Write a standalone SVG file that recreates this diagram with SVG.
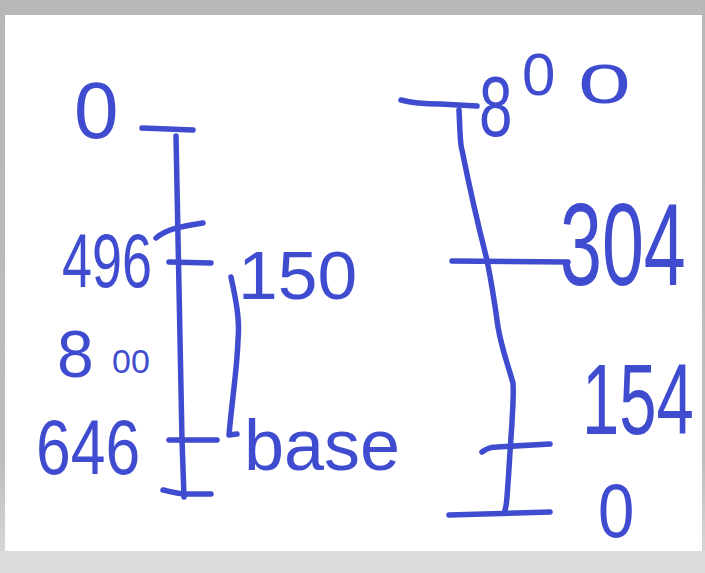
<svg xmlns="http://www.w3.org/2000/svg" width="705" height="573" viewBox="0 0 705 573">
<defs>
<linearGradient id="bg" x1="0" y1="0" x2="0" y2="1">
<stop offset="0" stop-color="#b6b7b6"/>
<stop offset="0.8" stop-color="#bcbdbc"/>
<stop offset="0.96" stop-color="#d4d5d4"/>
<stop offset="1" stop-color="#dfe0df"/>
</linearGradient>
<style>
.ink{fill:none;stroke:#3f4ccf;stroke-width:5.5;stroke-linecap:round;stroke-linejoin:round}
.t{fill:#3f4ccf;font-family:"Liberation Sans","DejaVu Sans",sans-serif}
</style>
</defs>
<rect x="0" y="0" width="705" height="573" fill="url(#bg)"/>
<rect x="0" y="551" width="705" height="22" fill="#dbdcdb"/>
<rect x="5" y="15" width="697" height="536" fill="#ffffff"/>

<g id="connectors">
<!-- left scale -->
<path class="ink" d="M142,128 L193,130"/>
<path class="ink" d="M176,136 C178,250 180,360 182,440 L184,497"/>
<path class="ink" d="M169,262 L211,263"/>
<path class="ink" d="M156,238 C168,228 185,226 203,223"/>
<path class="ink" d="M169,440 L217,440"/>
<path class="ink" d="M163,490 C172,492 180,494 185,494 L211,494"/>
<path class="ink" d="M231,277 C236,300 240,320 238,340 C237,370 232,400 229,435 L237,434"/>
<!-- right scale -->
<path class="ink" d="M401,100 C412,103 425,104 440,104 L477,106"/>
<path class="ink" d="M459,110 C460,130 460,145 462,150 C470,190 478,225 487,260 C492,285 495,305 498,327 C502,350 508,365 513,383 C514,400 512,415 512,423 C510,450 509,470 508,483 C507,495 507,505 505,510"/>
<path class="ink" d="M452,261 L568,262"/>
<path class="ink" d="M482,452 C487,448 492,447 497,447 L550,444"/>
<path class="ink" d="M449,515 L550,512"/>
</g>

<g id="left-labels">
<text class="t" x="74" y="138" font-size="80">0</text>
<text class="t" transform="translate(62,287) scale(0.71,1)" font-size="76">496</text>
<text class="t" x="57" y="377" font-size="66">8</text>
<text class="t" x="112" y="373" font-size="34">00</text>
<text class="t" transform="translate(36,474) scale(0.8,1)" font-size="78">646</text>
<text class="t" transform="translate(238,299) scale(1.05,1)" font-size="68">150</text>
<text class="t" x="244" y="470" font-size="72">base</text>
</g>

<g id="right-labels">
<text class="t" transform="translate(479,136) scale(0.7,1)" font-size="86">8</text>
<text class="t" x="522" y="95" font-size="60">0</text>
<text class="t" transform="translate(578,103) scale(1.7,1)" font-size="56">0</text>
<text class="t" transform="translate(560,285) scale(0.65,1)" font-size="116">304</text>
<text class="t" transform="translate(582,434) scale(0.67,1)" font-size="100">154</text>
<text class="t" transform="translate(598,537) scale(0.86,1)" font-size="76">0</text>
</g>
</svg>
